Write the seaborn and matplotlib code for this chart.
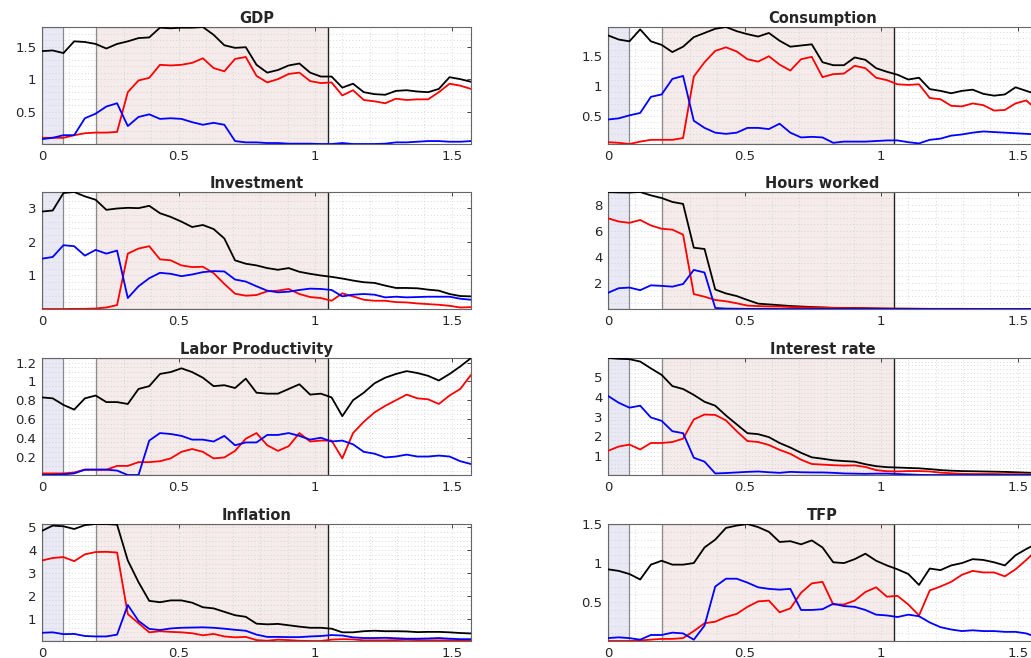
import numpy as np
import pandas as pd
import matplotlib
matplotlib.use("Agg")
import matplotlib.pyplot as plt
import seaborn as sns
from matplotlib.ticker import MultipleLocator, FixedLocator

# frequency grid (0 .. pi/2)
freq = np.linspace(0, np.pi / 2, 41)

# ---------------- data ----------------
gdp_total = [1.43, 1.44, 1.40, 1.58, 1.57, 1.54, 1.47, 1.54, 1.58, 1.63, 1.64, 1.79, 1.78, 1.79, 1.79, 1.80,
             1.68, 1.52, 1.48, 1.49, 1.22, 1.10, 1.14, 1.21, 1.24, 1.10, 1.04, 1.04, 0.87, 0.93, 0.80, 0.77,
             0.76, 0.82, 0.83, 0.81, 0.80, 0.85, 1.03, 1.00, 0.96]
gdp_red = [0.10, 0.10, 0.10, 0.14, 0.17, 0.18, 0.18, 0.19, 0.80, 0.98, 1.02, 1.22, 1.21, 1.22, 1.25, 1.32,
           1.17, 1.12, 1.31, 1.34, 1.05, 0.95, 1.00, 1.08, 1.10, 0.97, 0.94, 0.95, 0.75, 0.83, 0.68, 0.66,
           0.63, 0.70, 0.68, 0.69, 0.69, 0.80, 0.93, 0.90, 0.85]
gdp_blue = [0.08, 0.10, 0.14, 0.14, 0.40, 0.47, 0.58, 0.63, 0.28, 0.42, 0.46, 0.39, 0.40, 0.39, 0.34, 0.30,
            0.33, 0.30, 0.05, 0.03, 0.03, 0.02, 0.02, 0.01, 0.01, 0.01, 0.005, 0.005, 0.02, 0.005, 0.005,
            0.005, 0.01, 0.03, 0.03, 0.04, 0.05, 0.05, 0.04, 0.04, 0.05]

cons_total = [1.85, 1.78, 1.75, 1.95, 1.75, 1.69, 1.57, 1.66, 1.82, 1.89, 1.96, 1.99, 1.92, 1.87, 1.83, 1.89,
              1.76, 1.66, 1.68, 1.70, 1.40, 1.35, 1.35, 1.48, 1.44, 1.30, 1.24, 1.19, 1.11, 1.14, 0.95, 0.92,
              0.88, 0.92, 0.94, 0.87, 0.84, 0.86, 0.98, 0.92, 0.86]
cons_red = [0.06, 0.05, 0.03, 0.07, 0.10, 0.10, 0.10, 0.13, 1.16, 1.40, 1.59, 1.65, 1.58, 1.45, 1.41, 1.50,
            1.36, 1.26, 1.45, 1.49, 1.15, 1.20, 1.21, 1.34, 1.30, 1.14, 1.10, 1.03, 1.02, 1.03, 0.80, 0.78,
            0.67, 0.66, 0.71, 0.68, 0.59, 0.60, 0.71, 0.76, 0.60]
cons_blue = [0.44, 0.46, 0.51, 0.55, 0.82, 0.86, 1.12, 1.17, 0.42, 0.30, 0.22, 0.20, 0.22, 0.30, 0.30, 0.28,
             0.37, 0.22, 0.14, 0.15, 0.14, 0.05, 0.07, 0.07, 0.07, 0.08, 0.09, 0.09, 0.06, 0.04, 0.10, 0.12,
             0.17, 0.19, 0.22, 0.24, 0.23, 0.22, 0.21, 0.20, 0.19]

inv_total = [2.90, 2.93, 3.45, 3.48, 3.35, 3.25, 2.95, 2.99, 3.01, 3.00, 3.07, 2.85, 2.74, 2.60, 2.44, 2.50,
             2.38, 2.10, 1.45, 1.35, 1.30, 1.22, 1.17, 1.22, 1.11, 1.05, 1.00, 0.96, 0.91, 0.85, 0.80, 0.78,
             0.70, 0.63, 0.63, 0.62, 0.58, 0.55, 0.45, 0.39, 0.38]
inv_red = [0.005, 0.005, 0.005, 0.01, 0.01, 0.02, 0.05, 0.12, 1.65, 1.80, 1.87, 1.48, 1.45, 1.30, 1.25, 1.26,
           1.07, 0.75, 0.46, 0.40, 0.42, 0.53, 0.55, 0.60, 0.45, 0.36, 0.33, 0.25, 0.47, 0.38, 0.28, 0.25,
           0.25, 0.21, 0.20, 0.17, 0.15, 0.13, 0.10, 0.05, 0.06]
inv_blue = [1.50, 1.55, 1.90, 1.87, 1.59, 1.76, 1.65, 1.74, 0.33, 0.68, 0.92, 1.08, 1.05, 0.98, 1.03, 1.10,
            1.13, 1.12, 0.88, 0.82, 0.68, 0.55, 0.50, 0.52, 0.57, 0.61, 0.60, 0.57, 0.38, 0.43, 0.45, 0.43,
            0.35, 0.37, 0.35, 0.36, 0.37, 0.37, 0.37, 0.31, 0.28]

hours_total = [8.95, 8.93, 8.92, 8.96, 8.70, 8.50, 8.20, 8.05, 4.70, 4.60, 1.50, 1.20, 1.00, 0.70, 0.42, 0.36,
               0.30, 0.24, 0.20, 0.16, 0.13, 0.10, 0.09, 0.08, 0.07, 0.05, 0.04, 0.03, 0.03, 0.02, 0.02, 0.02,
               0.02, 0.02, 0.01, 0.01, 0.01, 0.01, 0.01, 0.01, 0.01]
hours_red = [6.95, 6.70, 6.60, 6.82, 6.40, 6.15, 6.08, 5.70, 1.15, 0.95, 0.70, 0.60, 0.45, 0.27, 0.23, 0.21,
             0.20, 0.16, 0.14, 0.12, 0.11, 0.09, 0.08, 0.07, 0.06, 0.05, 0.04, 0.04, 0.03, 0.03, 0.02, 0.02,
             0.02, 0.02, 0.02, 0.01, 0.01, 0.01, 0.01, 0.01, 0.01]
hours_blue = [1.25, 1.60, 1.65, 1.45, 1.82, 1.78, 1.72, 1.92, 3.00, 2.80, 0.09, 0.04, 0.03, 0.02, 0.02, 0.02,
              0.01, 0.01, 0.01, 0.01, 0.01, 0.01, 0.01, 0.01, 0.01, 0.01, 0.01, 0.01, 0.01, 0.01, 0.01, 0.01,
              0.01, 0.01, 0.01, 0.01, 0.01, 0.01, 0.01, 0.01, 0.01]

lab_total = [0.83, 0.82, 0.75, 0.70, 0.82, 0.85, 0.78, 0.78, 0.76, 0.92, 0.95, 1.08, 1.10, 1.14, 1.10, 1.04,
             0.95, 0.96, 0.93, 1.03, 0.88, 0.87, 0.87, 0.92, 0.97, 0.86, 0.87, 0.83, 0.63, 0.80, 0.88, 0.98,
             1.04, 1.08, 1.11, 1.09, 1.06, 1.01, 1.08, 1.16, 1.25]
lab_red = [0.02, 0.02, 0.02, 0.03, 0.06, 0.06, 0.06, 0.10, 0.10, 0.14, 0.14, 0.15, 0.18, 0.25, 0.28, 0.25,
           0.18, 0.19, 0.26, 0.39, 0.45, 0.32, 0.26, 0.31, 0.45, 0.36, 0.37, 0.37, 0.18, 0.45, 0.57, 0.67,
           0.74, 0.80, 0.86, 0.82, 0.81, 0.76, 0.85, 0.92, 1.07]
lab_blue = [0.003, 0.005, 0.01, 0.02, 0.06, 0.06, 0.06, 0.05, 0.003, 0.003, 0.37, 0.45, 0.44, 0.42, 0.38, 0.38,
            0.36, 0.42, 0.32, 0.35, 0.35, 0.43, 0.43, 0.45, 0.42, 0.38, 0.40, 0.36, 0.37, 0.33, 0.25, 0.23,
            0.19, 0.20, 0.22, 0.20, 0.20, 0.21, 0.20, 0.15, 0.12]

rate_total = [5.98, 5.94, 5.92, 5.80, 5.45, 5.12, 4.55, 4.40, 4.10, 3.75, 3.55, 3.05, 2.60, 2.15, 2.10, 1.95,
              1.65, 1.42, 1.15, 0.92, 0.85, 0.77, 0.73, 0.70, 0.57, 0.47, 0.42, 0.40, 0.38, 0.36, 0.32, 0.27,
              0.24, 0.22, 0.21, 0.20, 0.19, 0.18, 0.16, 0.14, 0.12]
rate_red = [1.25, 1.47, 1.57, 1.32, 1.65, 1.65, 1.70, 1.87, 2.85, 3.10, 3.08, 2.80, 2.25, 1.75, 1.70, 1.55,
            1.30, 1.10, 0.80, 0.58, 0.55, 0.52, 0.50, 0.51, 0.43, 0.27, 0.21, 0.20, 0.22, 0.22, 0.20, 0.14,
            0.11, 0.08, 0.07, 0.07, 0.07, 0.06, 0.06, 0.05, 0.05]
rate_blue = [4.05, 3.70, 3.45, 3.55, 2.95, 2.78, 2.25, 2.15, 0.90, 0.70, 0.10, 0.12, 0.15, 0.18, 0.20, 0.16,
             0.13, 0.18, 0.16, 0.15, 0.15, 0.13, 0.10, 0.09, 0.08, 0.09, 0.09, 0.07, 0.05, 0.03, 0.02, 0.02,
             0.02, 0.02, 0.02, 0.02, 0.02, 0.02, 0.02, 0.02, 0.02]

infl_total = [4.85, 5.08, 5.05, 4.93, 5.10, 5.15, 5.15, 5.12, 3.55, 2.60, 1.78, 1.72, 1.80, 1.80, 1.70, 1.50,
              1.45, 1.30, 1.15, 1.08, 0.78, 0.75, 0.77, 0.71, 0.65, 0.60, 0.60, 0.56, 0.40, 0.40, 0.45, 0.47,
              0.45, 0.45, 0.44, 0.41, 0.42, 0.42, 0.40, 0.37, 0.35]
infl_red = [3.55, 3.66, 3.70, 3.52, 3.82, 3.92, 3.93, 3.90, 1.20, 0.80, 0.40, 0.45, 0.42, 0.40, 0.36, 0.27,
            0.33, 0.22, 0.18, 0.20, 0.06, 0.03, 0.08, 0.06, 0.03, 0.02, 0.02, 0.08, 0.10, 0.09, 0.05, 0.05,
            0.05, 0.06, 0.07, 0.06, 0.05, 0.05, 0.05, 0.04, 0.03]
infl_blue = [0.38, 0.40, 0.32, 0.33, 0.24, 0.22, 0.22, 0.30, 1.60, 0.90, 0.55, 0.50, 0.57, 0.60, 0.61, 0.62,
             0.60, 0.56, 0.51, 0.47, 0.30, 0.20, 0.20, 0.19, 0.19, 0.22, 0.24, 0.28, 0.26, 0.18, 0.15, 0.15,
             0.16, 0.14, 0.12, 0.12, 0.13, 0.15, 0.12, 0.10, 0.10]

tfp_total = [0.92, 0.90, 0.86, 0.79, 0.98, 1.03, 0.98, 0.98, 1.00, 1.20, 1.30, 1.45, 1.48, 1.50, 1.46, 1.40,
             1.27, 1.28, 1.24, 1.29, 1.20, 1.01, 1.00, 1.05, 1.12, 1.03, 0.97, 0.92, 0.86, 0.72, 0.93, 0.91,
             0.97, 1.00, 1.05, 1.04, 1.01, 0.97, 1.10, 1.18, 1.25]
tfp_red = [0.003, 0.003, 0.003, 0.01, 0.02, 0.03, 0.03, 0.04, 0.13, 0.23, 0.25, 0.31, 0.35, 0.44, 0.51, 0.52,
           0.37, 0.42, 0.62, 0.74, 0.76, 0.47, 0.47, 0.52, 0.63, 0.69, 0.57, 0.58, 0.47, 0.33, 0.65, 0.70,
           0.76, 0.85, 0.90, 0.88, 0.88, 0.83, 0.92, 1.04, 1.17]
tfp_blue = [0.04, 0.05, 0.04, 0.02, 0.08, 0.08, 0.11, 0.10, 0.02, 0.20, 0.70, 0.80, 0.80, 0.75, 0.69, 0.67,
            0.66, 0.67, 0.40, 0.40, 0.41, 0.48, 0.45, 0.44, 0.40, 0.34, 0.33, 0.31, 0.34, 0.32, 0.24, 0.18,
            0.15, 0.13, 0.14, 0.13, 0.13, 0.12, 0.12, 0.10, 0.05]

titles = ["GDP", "Consumption", "Investment", "Hours worked",
          "Labor Productivity", "Interest rate", "Inflation", "TFP"]
series_data = [
    (gdp_total, gdp_red, gdp_blue),
    (cons_total, cons_red, cons_blue),
    (inv_total, inv_red, inv_blue),
    (hours_total, hours_red, hours_blue),
    (lab_total, lab_red, lab_blue),
    (rate_total, rate_red, rate_blue),
    (infl_total, infl_red, infl_blue),
    (tfp_total, tfp_red, tfp_blue),
]
yticks = [
    [0.5, 1, 1.5], [0.5, 1, 1.5, 2],
    [1, 2, 3], [2, 4, 6, 8],
    [0.2, 0.4, 0.6, 0.8, 1, 1.2], [1, 2, 3, 4, 5],
    [1, 2, 3, 4, 5], [0.5, 1, 1.5],
]
xticks = [0, 0.5, 1, 1.5]
xticklabels = ["0", "0.5", "1", "1.5"]
series_names = ["total", "red", "blue"]

# band limits (periods in quarters)
band_low = 2 * np.pi / 80
band_bc_lo = 2 * np.pi / 32
band_bc_hi = 2 * np.pi / 6

# ---------------- styling ----------------
sns.set_theme(style="white")
plt.rcParams["font.family"] = ["DejaVu Sans"]
palette = {"total": "#000000", "red": "#ff0000", "blue": "#0000ff"}
minor_steps = [0.1, 0.1, 0.2, 0.5, 0.05, 0.2, 0.2, 0.1]

fig = plt.figure(figsize=(10.31, 6.58), dpi=100)
W, H = 1031, 658
col_left = [42, 608]
ax_w = 429
row_top = [27, 192, 358, 524]
ax_h = 117

for i, title in enumerate(titles):
    r, c = divmod(i, 2)
    left = col_left[c] / W
    bottom = 1 - (row_top[r] + ax_h) / H
    ax = fig.add_axes([left, bottom, ax_w / W, ax_h / H])

    tot, red, blue = series_data[i]
    df = pd.DataFrame({
        "freq": np.concatenate([freq, freq, freq]),
        "value": np.concatenate([tot, red, blue]),
        "series": np.repeat(series_names, len(freq)),
    })

    ax.axvspan(0, band_low, facecolor="#e9e9f5", edgecolor="#8a8a8a", lw=0.9, zorder=0.2)
    ax.axvspan(band_bc_lo, band_bc_hi, facecolor="#f5ebea", edgecolor="#8a8a8a", lw=0.9, zorder=0.2)
    ax.axvline(band_bc_hi, color="#222222", lw=0.9, zorder=0.3)

    sns.lineplot(data=df, x="freq", y="value", hue="series", palette=palette,
                 hue_order=series_names, legend=False, linewidth=1.3, ax=ax, zorder=3)

    allv = np.concatenate([tot, red, blue])
    ax.set_xlim(0, np.pi / 2)
    ax.set_ylim(allv.min(), allv.max())
    ax.xaxis.set_major_locator(FixedLocator(xticks))
    ax.set_xticklabels(xticklabels)
    ax.yaxis.set_major_locator(FixedLocator(yticks[i]))
    ax.set_yticklabels([f"{v:g}" for v in yticks[i]])
    ax.xaxis.set_minor_locator(MultipleLocator(0.1))
    ax.yaxis.set_minor_locator(MultipleLocator(minor_steps[i]))
    ax.set_axisbelow(True)
    ax.grid(which="both", linestyle=(0, (1.2, 3.5)), color="#c4c4c4", linewidth=0.5)
    ax.set_xlabel("")
    ax.set_ylabel("")
    ax.set_title(title, fontsize=10.5, fontweight="bold", pad=3)
    ax.tick_params(axis="both", which="major", direction="in", length=3, width=0.6,
                   labelsize=9.5, colors="#262626", pad=4, top=True, right=True)
    ax.tick_params(axis="both", which="minor", length=0)
    for s in ax.spines.values():
        s.set_color("#666666")
        s.set_linewidth(0.8)

fig.savefig("out.png", dpi=100)
